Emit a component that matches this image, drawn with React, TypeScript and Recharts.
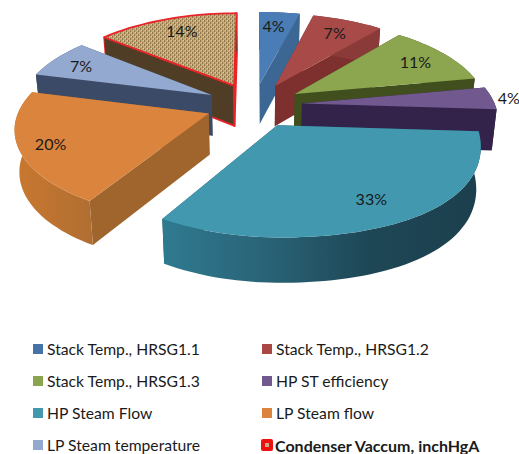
import { PieChart, Pie } from 'recharts'

const categories = [
  'Stack Temp., HRSG1.1',
  'Stack Temp., HRSG1.2',
  'Stack Temp., HRSG1.3',
  'HP ST efficiency',
  'HP Steam Flow',
  'LP Steam flow',
  'LP Steam temperature',
  'Condenser Vaccum, inchHgA',
]
const shares = [4, 7, 11, 4, 32.6, 20.4, 7, 14]
const percentLabels = ['4%', '7%', '11%', '4%', '33%', '20%', '7%', '14%']

const topColors = ['#4a7db5', '#a84a48', '#8ba64e', '#71588f', '#4198af', '#db843d', '#93a9cf', 'url(#weave)']
const cutColors = ['#3c6794', '#7d302e', '#414f1f', '#33234a', '#26586a', '#a0652d', '#3b4a66', '#4f3e25']
const rimColors = ['#3c6794', '#8a3a38', '#414f1f', '#33234a', 'url(#tealRim)', 'url(#orangeRim)', '#3b4a66', '#4f3e25']
const legendColors = ['#4572a7', '#aa4643', '#89a54e', '#71588f', '#4198af', '#db843d', '#93a9cf', '#ee1111']

// back to front, so nearer slices cover the ones behind them
const drawOrder = [7, 0, 1, 2, 3, 6, 5, 4]
const labelRadius = [0.8, 0.8, 0.8, 1.09, 0.8, 0.82, 0.82, 0.8]
const labelNudge = [-1, 0, 0, 0, -3, 0, -1, 1.5]
const sliceScale = [1, 1, 1, 1, 1, 0.975, 1, 1]

// fake 3D: tilted, exploded pie with a bit of perspective
const RX = 193
const RY = 88.6
const PERSP = 0.15
const EXPLODE = 0.25
const WALL = 41
const BULGE = 0.03

const rad = (d: number) => (d * Math.PI) / 180

function project(cx: number, cy: number, px: number, py: number) {
  const d = 1 + PERSP * py
  return { x: cx + (RX * px) / d, y: cy - (RY * py) / d, d }
}

function drop(p: { x: number; y: number; d: number }, cx: number) {
  return { x: cx + (p.x - cx) * 0.98, y: p.y + WALL / Math.sqrt(p.d) }
}

const toPath = (pts: { x: number; y: number }[]) =>
  pts.map((p, i) => `${i ? 'L' : 'M'}${p.x.toFixed(1)} ${p.y.toFixed(1)}`).join(' ') + ' Z'

function Slice(props: any) {
  const { cx, cy, startAngle, endAngle, index } = props
  const a0 = 90 - startAngle
  const a1 = 90 - endAngle
  const mid = rad((a0 + a1) / 2)
  const ox = EXPLODE * Math.sin(mid)
  const oy = EXPLODE * Math.cos(mid)
  const at = (r: number, deg: number) => {
    const t = rad(deg)
    // lower right of the original reads slightly fuller than an ellipse
    const full = r && Math.cos(t) < 0 && Math.sin(t) > 0 ? r + BULGE * Math.sin(2 * t) ** 2 : r
    const size = full * sliceScale[index]
    return project(cx, cy, ox + size * Math.sin(t), oy + size * Math.cos(t))
  }

  const apex = at(0, a0)
  const arc = []
  const steps = Math.max(6, Math.round((a1 - a0) / 2))
  for (let i = 0; i <= steps; i++) arc.push(at(1, a0 + ((a1 - a0) * i) / steps))
  const first = arc[0]
  const last = arc[arc.length - 1]
  const isFlagged = index === 7
  const edge = isFlagged ? { stroke: '#e8242a', strokeWidth: 1.8, strokeLinejoin: 'round' as const } : {}

  return (
    <g>
      <path d={toPath([apex, first, drop(first, cx), drop(apex, cx)])} fill={cutColors[index]} {...edge} />
      <path d={toPath([apex, last, drop(last, cx), drop(apex, cx)])} fill={cutColors[index]} {...edge} />
      <path d={toPath([...arc, ...arc.map((p) => drop(p, cx)).reverse()])} fill={rimColors[index]} />
      <path d={toPath([apex, ...arc])} fill={topColors[index]} {...edge} />
    </g>
  )
}

function PercentLabel(props: any) {
  const { cx, cy, startAngle, endAngle, index } = props
  const m = rad(90 - (startAngle + endAngle) / 2)
  const lm = m + rad(labelNudge[index])
  const r = labelRadius[index]
  const p = project(
    cx,
    cy,
    EXPLODE * Math.sin(m) + r * Math.sin(lm),
    EXPLODE * Math.cos(m) + r * Math.cos(lm),
  )
  return (
    <text x={p.x} y={p.y} textAnchor="middle" dominantBaseline="central" fontFamily="Lato" fontSize={16} fill="#1a1a1a">
      {percentLabels[index]}
    </text>
  )
}

const tableData = categories.map((name, i) => ({ name, share: shares[i] }))

export default function App() {
  return (
    <div style={{ position: 'absolute', left: 0, top: 0, width: 519, height: 454, background: '#fff', overflow: 'hidden' }}>
      <PieChart width={519} height={454} margin={{ top: 0, right: 0, bottom: 0, left: 0 }}>
        <defs>
          <pattern id="weave" width="4" height="4" patternUnits="userSpaceOnUse">
            <rect width="4" height="4" fill="#c2a677" />
            <rect x="0" y="0" width="1" height="2" fill="#94794a" />
            <rect x="2" y="2" width="1" height="2" fill="#94794a" />
            <rect x="1" y="2" width="1" height="1" fill="#dccca2" />
            <rect x="3" y="0" width="1" height="1" fill="#dccca2" />
          </pattern>
          <linearGradient id="tealRim" x1="0" y1="0" x2="1" y2="0">
            <stop offset="0" stopColor="#2f7a90" />
            <stop offset="0.3" stopColor="#2a6579" />
            <stop offset="0.65" stopColor="#1e4756" />
            <stop offset="1" stopColor="#1c3f4d" />
          </linearGradient>
          <linearGradient id="orangeRim" x1="0" y1="0" x2="1" y2="0">
            <stop offset="0" stopColor="#c9782f" />
            <stop offset="1" stopColor="#b06e32" />
          </linearGradient>
        </defs>
        {drawOrder.map((slot) => (
          <Pie
            key={slot}
            data={tableData}
            dataKey="share"
            nameKey="name"
            cx={254}
            cy={105}
            outerRadius={100}
            startAngle={90}
            endAngle={-270}
            stroke="none"
            isAnimationActive={false}
            shape={(p: any) => (p.index === slot ? <Slice {...p} /> : <g />)}
          />
        ))}
        <Pie
          data={tableData}
          dataKey="share"
          nameKey="name"
          cx={254}
          cy={105}
          outerRadius={100}
          startAngle={90}
          endAngle={-270}
          isAnimationActive={false}
          shape={() => <g />}
          labelLine={false}
          label={(p: any) => <PercentLabel {...p} cx={254} cy={105} />}
        />
      </PieChart>

      <div
        style={{
          position: 'absolute',
          left: 33,
          top: 333,
          display: 'grid',
          gridTemplateColumns: '229px 240px',
          gridAutoRows: '32px',
          fontFamily: 'Lato',
          fontSize: 15.7,
          color: '#1a1a1a',
        }}
      >
        {categories.map((name, i) => (
          <div
            key={name}
            style={{
              display: 'flex',
              alignItems: 'center',
              whiteSpace: 'nowrap',
              fontWeight: i === 7 ? 700 : 400,
              fontSize: i === 7 ? 16 : undefined,
            }}
          >
            <span
              style={{
                width: i === 7 ? 12 : 10,
                height: i === 7 ? 12 : 10,
                marginRight: i === 7 ? 2 : 4,
                marginLeft: i === 7 ? -1 : 0,
                borderRadius: i === 7 ? 2 : 0,
                background: legendColors[i],
                display: 'inline-flex',
                alignItems: 'center',
                justifyContent: 'center',
              }}
            >
              {i === 7 && <span style={{ width: 4, height: 4, background: '#c8ae82' }} />}
            </span>
            {name}
          </div>
        ))}
      </div>
    </div>
  )
}
